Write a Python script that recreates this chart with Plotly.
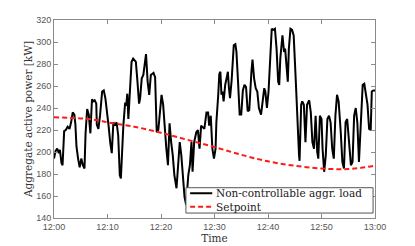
import plotly.graph_objects as go

# Time in minutes after 12:00
load_minutes = [0.0, 0.3, 0.6, 0.9, 1.1, 1.4, 1.6, 1.9, 2.2, 2.55, 2.9, 3.2, 3.5, 3.8, 4.0, 4.2, 4.5, 4.8, 5.1, 5.4,
                5.7, 5.9, 6.2, 6.5, 6.8, 7.1, 7.3, 7.6, 7.9, 8.0, 8.3, 8.6, 9.0, 9.3, 9.6, 9.9, 10.2, 10.5, 10.8, 11.1,
                11.4, 11.7, 12.0, 12.3, 12.5, 12.96, 13.3, 13.5, 13.7, 13.9, 14.2, 14.5, 14.8, 15.3, 15.6, 15.9, 16.1,
                16.4, 16.7, 17.0, 17.2, 17.5, 17.8, 18.1, 18.6, 18.9, 19.2, 19.5, 19.8, 20.1, 20.4, 20.7, 21.0, 21.3,
                21.6, 21.9, 22.2, 22.5, 22.9, 23.2, 23.5, 23.8, 24.1, 24.4, 24.7, 25.1, 25.4, 25.7, 25.9, 26.2, 26.6,
                26.9, 27.2, 27.5, 28.1, 28.5, 28.8, 29.0, 29.3, 29.6, 29.9, 30.2, 30.35, 30.5, 30.7, 30.9, 31.1, 31.3,
                31.5, 31.7, 32.0, 32.3, 32.5, 32.7, 32.9, 33.2, 33.6, 33.9, 34.1, 34.4, 34.7, 35.0, 35.3, 35.6, 35.9,
                36.2, 36.5, 36.9, 37.1, 37.4, 37.7, 38.0, 38.3, 38.7, 39.0, 39.3, 39.5, 39.8, 40.1, 40.4, 40.7, 41.0,
                41.3, 41.6, 41.9, 42.1, 42.3, 42.7, 43.0, 43.2, 43.7, 43.9, 44.2, 44.5, 44.8, 45.2, 45.5, 45.8, 45.9,
                46.2, 46.4, 46.7, 47.0, 47.3, 47.7, 48.0, 48.3, 48.6, 48.9, 49.2, 49.4, 49.7, 50.0, 50.2, 50.5, 50.8,
                51.1, 51.4, 51.7, 52.0, 52.3, 52.6, 52.9, 53.2, 53.6, 53.9, 54.2, 54.5, 54.8, 55.1, 55.5, 55.8, 56.1,
                56.4, 56.7, 57.0, 57.3, 57.7, 58.0, 58.3, 58.6, 58.9, 59.2, 59.4, 59.7, 60.0]
load_kw = [194, 201, 203, 199, 202, 190, 188, 219, 220, 223, 221, 227, 236, 234, 225, 205, 194, 186, 194, 188,
           185, 217, 239, 234, 217, 248, 246, 247, 244, 225, 221, 233, 255, 256, 249, 233, 224, 209, 199, 227,
           224, 227, 215, 179, 176, 224, 245, 242, 253, 230, 264, 282, 285, 282, 264, 244, 249,
           267, 270, 279, 289, 264, 252, 270, 272, 268, 218, 220, 240, 252, 243, 221, 203, 188,
           226, 209, 197, 179, 167, 188, 209, 197, 179, 159, 152, 179, 188, 209, 182, 209, 218,
           220, 203, 224, 221, 236, 236, 224, 233, 203, 194, 203, 227, 236, 252, 271, 273, 252,
           255, 246, 261, 268, 273, 258, 249, 265, 297, 298, 291, 264, 234, 234, 256, 261, 259,
           237, 238, 273, 284, 267, 258, 255, 240, 234, 246, 258, 255, 240, 255, 285, 312, 311,
           312, 294, 264, 261, 285, 306, 291, 294, 264, 294, 312, 311, 306, 264, 224, 197, 192,
           243, 246, 243, 209, 243, 247, 236, 209, 203, 233, 200, 194, 233, 230, 203, 182, 197,
           230, 233, 227, 203, 194, 233, 252, 246, 218, 191, 185, 227, 230, 209, 188, 191, 233,
           240, 227, 191, 227, 261, 262, 252, 243, 221, 220, 255, 256, 256]

setpoint_minutes = [0, 5, 8, 10, 15, 20, 25, 30, 35, 40, 45, 50, 55, 60]
setpoint_kw = [231.5, 230.5, 229, 227, 223, 217.5, 211, 204.5, 197.5, 191.5, 187.5, 185, 184.5, 187.5]

x_tickvals = [0, 10, 20, 30, 40, 50, 60]
x_ticktext = ["12:00", "12:10", "12:20", "12:30", "12:40", "12:50", "13:00"]

series_names = ["Non-controllable aggr. load", "Setpoint"]
series_colors = ["black", "#ff1a1a"]
series_dash = ["solid", "5px,3px"]

SERIF = "DejaVu Serif, Liberation Serif, serif"

fig = go.Figure()
fig.add_trace(go.Scatter(x=load_minutes, y=load_kw, mode="lines",
                         name=series_names[0], showlegend=False,
                         line=dict(color=series_colors[0], width=2)))
fig.add_trace(go.Scatter(x=setpoint_minutes, y=setpoint_kw, mode="lines",
                         name=series_names[1], line_shape="spline", showlegend=False,
                         line=dict(color=series_colors[1], width=2, dash=series_dash[1])))

axis_common = dict(showline=True, linecolor="#8a8a8a", linewidth=1, mirror="ticks",
                   ticks="inside", ticklen=4, tickcolor="#8a8a8a", showgrid=False, zeroline=False,
                   tickfont=dict(family="Liberation Sans, Arial", size=9, color="#555555"))

# Compact legend box (paper coordinates), matching the tight original legend
legend_box = dict(x0=0.411, x1=0.994, y0=0.025, y1=0.153)
row_y = [0.125, 0.057]
sample_x = [0.424, 0.493]
text_x = 0.497

shapes = [dict(type="rect", xref="paper", yref="paper", x0=legend_box["x0"], x1=legend_box["x1"],
               y0=legend_box["y0"], y1=legend_box["y1"], line=dict(color="#555555", width=1),
               fillcolor="white", layer="above")]
for color, dash, ry in zip(series_colors, series_dash, row_y):
    shapes.append(dict(type="line", xref="paper", yref="paper", x0=sample_x[0], x1=sample_x[1],
                       y0=ry, y1=ry, line=dict(color=color, width=2, dash=dash), layer="above"))
annotations = [dict(text="<br>".join(series_names), xref="paper", yref="paper",
                    x=text_x, y=sum(row_y) / 2, xanchor="left", yanchor="middle", align="left",
                    showarrow=False, font=dict(family=SERIF, size=10.5, color="#222222"))]

fig.update_layout(
    width=415, height=246,
    # page body adds an 8px offset; margins compensate so the plot area sits where the original's does
    margin=dict(l=46, r=48, t=12, b=36),
    paper_bgcolor="white", plot_bgcolor="white",
    showlegend=False,
    shapes=shapes, annotations=annotations,
    xaxis=dict(range=[0, 60], tickvals=x_tickvals, ticktext=x_ticktext,
               title=dict(text="Time", standoff=0,
                          font=dict(family=SERIF, size=10.5, color="#333333")),
               automargin=False, **axis_common),
    yaxis=dict(range=[140, 320], dtick=20,
               title=dict(text="Aggregate active power [kW]", standoff=1,
                          font=dict(family=SERIF, size=10.5, color="#333333")),
               automargin=False, **axis_common),
)

fig.write_html("out.html")
